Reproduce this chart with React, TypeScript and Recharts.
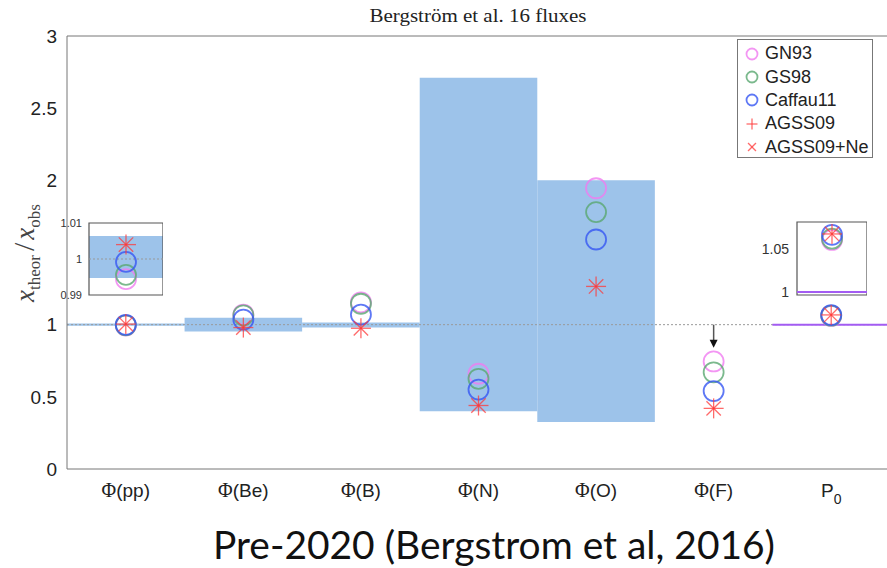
import React from "react";
import { ComposedChart, Scatter, XAxis, YAxis, ReferenceArea, ReferenceLine } from "recharts";

// categories on the x axis (one band each)
const categories = ["Φ(pp)", "Φ(Be)", "Φ(B)", "Φ(N)", "Φ(O)", "Φ(F)", "P0"];
const categoryPos = [0.5, 1.5, 2.5, 3.5, 4.5, 5.5, 6.5];
const bandEdges = [0, 1, 2, 3, 4, 5, 6, 7];
const innerEdges = [1, 2, 3, 4, 5, 6];
const yTicks = [0, 0.5, 1, 1.5, 2, 2.5, 3];
// the 1.5 label is hidden behind the pp inset in the original
const yTickLabels = ["0", "0.5", "1", "", "2", "2.5", "3"];

// x_theor / x_obs for each solar model
const gn93 = [0.9944, 1.07, 1.155, 0.66, 1.945, 0.745, 1.0605];
const gs98 = [0.9956, 1.065, 1.145, 0.625, 1.78, 0.67, 1.062];
const caffau11 = [0.9992, 1.035, 1.07, 0.55, 1.59, 0.54, 1.0665];
const agss09 = [1.004, 0.98, 0.975, 0.44, 1.265, 0.42, 1.0675];
const agss09ne = [1.004, 0.98, 0.975, 0.44, 1.265, 0.42, 1.0675];

// measured (observed) uncertainty bands
const bandLow = [0.992, 0.952, 0.981, 0.4, 0.326, null, null];
const bandHigh = [1.008, 1.048, 1.015, 2.71, 2.0, null, null];

// pp inset
const ppInsetTicks = [0.99, 1, 1.01];
const ppInsetBand = [0.9947, 1.0064];
// P0 inset
const p0InsetTicks = [1, 1.05];
const p0InsetDomain = [0.9965, 1.0814];

// upper limit for Φ(F)
const fLimitFrom = 1.0;
const fLimitTo = 0.84;

const SANS = "'Liberation Sans', Arial, sans-serif";
const SERIF = "'Liberation Serif', 'Times New Roman', serif";
const BAND = "#9dc3ea";
const AXIS = "#777";

const series = [
  { name: "GN93", values: gn93, color: "#f07cf0", kind: "circle" },
  { name: "GS98", values: gs98, color: "#5aa870", kind: "circle" },
  { name: "Caffau11", values: caffau11, color: "#3656f2", kind: "circle" },
  { name: "AGSS09", values: agss09, color: "#ff3838", kind: "plus" },
  { name: "AGSS09+Ne", values: agss09ne, color: "#ff3838", kind: "cross" },
];

const toPoints = (vals: number[]) => vals.map((y, i) => ({ x: categoryPos[i], y }));

const makeShape = (color: string, kind: string, r = 10) => (p: any) => {
  const { cx, cy } = p;
  if (cx == null || cy == null) return <g />;
  if (kind === "circle")
    return <circle cx={cx} cy={cy} r={r} fill="none" stroke={color} strokeWidth={1.8} strokeOpacity={0.8} />;
  if (kind === "plus")
    return (
      <g stroke={color} strokeWidth={1.3} strokeOpacity={0.75}>
        <line x1={cx - r} y1={cy} x2={cx + r} y2={cy} />
        <line x1={cx} y1={cy - r} x2={cx} y2={cy + r} />
      </g>
    );
  const d = r * 0.72;
  return (
    <g stroke={color} strokeWidth={1.3} strokeOpacity={0.75}>
      <line x1={cx - d} y1={cy - d} x2={cx + d} y2={cy + d} />
      <line x1={cx - d} y1={cy + d} x2={cx + d} y2={cy - d} />
    </g>
  );
};

const CatTick = (props: any) => {
  const { x, y, payload } = props;
  const label = categories[categoryPos.indexOf(payload.value)];
  if (label === "P0")
    return (
      <text x={x} y={y + 28} textAnchor="middle" fontSize={19} fontFamily={SANS} fill="#222">
        P<tspan dy={7} fontSize={14}>0</tspan>
      </text>
    );
  return (
    <text x={x} y={y + 28} textAnchor="middle" fontSize={19} fontFamily={SANS} fill="#222">
      <tspan fontFamily={SERIF} fontSize={20}>{label.slice(0, 1)}</tspan>
      {label.slice(1)}
    </text>
  );
};

const ArrowShape = (p: any) => {
  const { x1, y1, x2, y2 } = p;
  return (
    <g>
      <line x1={x1} y1={y1} x2={x2} y2={y2 - 6} stroke="#555" strokeWidth={1.5} />
      <polygon points={`${x2 - 4},${y2 - 8} ${x2 + 4},${y2 - 8} ${x2},${y2}`} fill="#111" />
    </g>
  );
};

function MainChart() {
  return (
    <ComposedChart width={890} height={521} margin={{ top: 36, right: 0, bottom: 0, left: 0 }}>
      <XAxis
        xAxisId="lab"
        type="number"
        dataKey="x"
        domain={[0, 7]}
        ticks={categoryPos}
        interval={0}
        tick={<CatTick />}
        tickLine={false}
        tickSize={0}
        tickMargin={0}
        axisLine={false}
        height={52}
        allowDataOverflow
      />
      <XAxis xAxisId="bnd" type="number" domain={[0, 7]} ticks={innerEdges} interval={0} tick={false} mirror tickSize={8} height={10} stroke={AXIS} allowDataOverflow />
      <XAxis xAxisId="top" orientation="top" type="number" domain={[0, 7]} ticks={innerEdges} interval={0} tick={false} mirror tickSize={8} height={10} stroke={AXIS} allowDataOverflow />
      <YAxis
        yAxisId="y"
        type="number"
        domain={[0, 3]}
        ticks={yTicks}
        interval={0}
        width={67}
        tickLine={false}
        tickSize={0}
        tickMargin={10}
        stroke={AXIS}
        tick={{ fill: "#222", fontSize: 19, fontFamily: SANS }}
        tickFormatter={(v) => yTickLabels[yTicks.indexOf(v)] ?? String(v)}
        allowDataOverflow
      />
      <YAxis yAxisId="yt" type="number" domain={[0, 3]} ticks={yTicks} interval={0} mirror tick={false} tickSize={8} width={10} axisLine={false} stroke={AXIS} allowDataOverflow />

      {bandLow.map((lo, i) =>
        lo == null ? null : (
          <ReferenceArea
            key={"b" + i}
            xAxisId="lab"
            yAxisId="y"
            x1={bandEdges[i]}
            x2={bandEdges[i + 1]}
            y1={lo}
            y2={bandHigh[i] as number}
            fill={BAND}
            fillOpacity={1}
            stroke="none"
          />
        )
      )}
      <ReferenceLine xAxisId="lab" yAxisId="y" y={1} stroke="#999" strokeDasharray="2 2" strokeWidth={1} />
      <ReferenceLine
        xAxisId="lab"
        yAxisId="y"
        segment={[{ x: bandEdges[6], y: 1 }, { x: bandEdges[7], y: 1 }]}
        stroke="#a35cf2"
        strokeWidth={2}
      />
      <ReferenceLine
        xAxisId="lab"
        yAxisId="y"
        segment={[{ x: categoryPos[5], y: fLimitFrom }, { x: categoryPos[5], y: fLimitTo }]}
        shape={ArrowShape}
      />
      {series.map((s) => (
        <Scatter
          key={s.name}
          xAxisId="lab"
          yAxisId="y"
          data={toPoints(s.values)}
          dataKey="y"
          shape={makeShape(s.color, s.kind)}
          isAnimationActive={false}
        />
      ))}
    </ComposedChart>
  );
}

function PpInset() {
  return (
    <ComposedChart width={123} height={88} margin={{ top: 8, right: 0, bottom: 8, left: 0 }}>
      <XAxis type="number" dataKey="x" domain={[0, 1]} hide allowDataOverflow />
      <YAxis
        type="number"
        domain={[ppInsetTicks[0], ppInsetTicks[2]]}
        ticks={ppInsetTicks}
        interval={0}
        width={49}
        tickLine={false}
        tickSize={0}
        tickMargin={7}
        axisLine={false}
        tick={{ fill: "#333", fontSize: 11, fontFamily: SANS }}
        tickFormatter={(v) => String(v)}
        allowDataOverflow
      />
      <ReferenceArea x1={0} x2={1} y1={ppInsetBand[0]} y2={ppInsetBand[1]} fill={BAND} fillOpacity={1} stroke="none" />
      <ReferenceLine y={1} stroke="#999" strokeDasharray="2 2" />
      <ReferenceArea x1={0} x2={1} y1={ppInsetTicks[0]} y2={ppInsetTicks[2]} fill="none" stroke="#555" strokeWidth={1.2} />
      {series.map((s) => (
        <Scatter
          key={s.name}
          data={[{ x: 0.5, y: s.values[0] }]}
          dataKey="y"
          shape={makeShape(s.color, s.kind)}
          isAnimationActive={false}
        />
      ))}
    </ComposedChart>
  );
}

function P0Inset() {
  return (
    <ComposedChart width={120} height={89} margin={{ top: 8, right: 0, bottom: 8, left: 0 }}>
      <XAxis type="number" dataKey="x" domain={[0, 1]} hide allowDataOverflow />
      <YAxis
        type="number"
        domain={p0InsetDomain}
        ticks={p0InsetTicks}
        interval={0}
        width={50}
        tickLine={false}
        tickSize={0}
        tickMargin={8}
        axisLine={false}
        tick={{ fill: "#333", fontSize: 14, fontFamily: SANS }}
        tickFormatter={(v) => String(v)}
        allowDataOverflow
      />
      <ReferenceLine y={1} stroke="#a35cf2" strokeWidth={2} />
      <ReferenceArea x1={0} x2={1} y1={p0InsetDomain[0]} y2={p0InsetDomain[1]} fill="none" stroke="#555" strokeWidth={1.2} />
      {series.map((s) => (
        <Scatter
          key={s.name}
          data={[{ x: 0.5, y: s.values[6] }]}
          dataKey="y"
          shape={makeShape(s.color, s.kind)}
          isAnimationActive={false}
        />
      ))}
    </ComposedChart>
  );
}

function LegendBox() {
  return (
    <div
      style={{
        position: "absolute",
        left: 737,
        top: 39,
        width: 136,
        height: 119,
        border: "1px solid #777",
        background: "#fff",
        boxSizing: "border-box",
        paddingTop: 2,
      }}
    >
      {series.map((s) => (
        <div key={s.name} style={{ display: "flex", alignItems: "center", height: 23.4 }}>
          <svg width={26} height={20} style={{ flex: "none" }}>
            {makeShape(s.color, s.kind, 5.5)({ cx: 14, cy: 10 })}
          </svg>
          <span style={{ fontFamily: SANS, fontSize: 18, color: "#222", marginLeft: 1 }}>{s.name}</span>
        </div>
      ))}
    </div>
  );
}

export default function App() {
  return (
    <div style={{ position: "absolute", left: 0, top: 0, width: 887, height: 568, overflow: "hidden", background: "#fff" }}>
      <div style={{ position: "absolute", left: 0, top: 0 }}>
        <MainChart />
      </div>
      <svg width={887} height={568} style={{ position: "absolute", left: 0, top: 0, pointerEvents: "none" }}>
        <text x={478} y={22} textAnchor="middle" fontFamily={SERIF} fontSize={19} fill="#222" textLength={217} lengthAdjust="spacingAndGlyphs">
          Bergström et al. 16 fluxes
        </text>
        <text transform="translate(34,253) rotate(-90)" textAnchor="middle" fontFamily={SERIF} fill="#444">
          <tspan fontStyle="italic" fontSize={27}>x</tspan>
          <tspan fontSize={17} dy={6}>theor</tspan>
          <tspan fontSize={30} dy={-6} dx={4}>/</tspan>
          <tspan fontStyle="italic" fontSize={27} dx={3}>x</tspan>
          <tspan fontSize={17} dy={6}>obs</tspan>
        </text>
        <text x={494} y={559} textAnchor="middle" fontFamily="Lato, 'Open Sans', sans-serif" fontSize={38} fill="#111" textLength={562} lengthAdjust="spacingAndGlyphs">
          Pre-2020 (Bergstrom et al, 2016)
        </text>
      </svg>
      <div style={{ position: "absolute", left: 40, top: 215 }}>
        <PpInset />
      </div>
      <div style={{ position: "absolute", left: 747, top: 214 }}>
        <P0Inset />
      </div>
      <LegendBox />
    </div>
  );
}
